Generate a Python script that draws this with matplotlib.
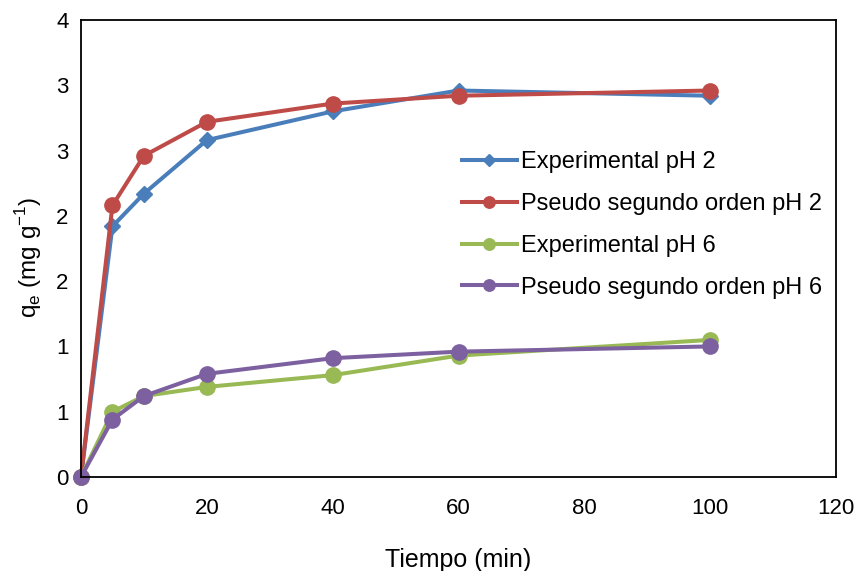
import matplotlib.pyplot as plt
import numpy as np
from matplotlib.ticker import FixedLocator, FixedFormatter

plt.rcParams['font.family'] = ['Liberation Sans', 'DejaVu Sans']

tiempo = [0, 5, 10, 20, 40, 60, 100]
exp_ph2 = [0, 1.92, 2.17, 2.58, 2.80, 2.96, 2.92]
pso_ph2 = [0, 2.08, 2.46, 2.72, 2.86, 2.92, 2.96]
exp_ph6 = [0, 0.50, 0.62, 0.69, 0.78, 0.93, 1.05]
pso_ph6 = [0, 0.44, 0.62, 0.79, 0.91, 0.96, 1.00]

y_ticks = [0, 0.5, 1, 1.5, 2, 2.5, 3, 3.5]
y_labels = ['0', '1', '1', '2', '2', '3', '3', '4']
x_ticks = [0, 20, 40, 60, 80, 100, 120]


def render():
    fig = plt.figure(figsize=(8.56, 5.71), dpi=100)
    fig.patch.set_facecolor('#ffffff')
    ax = fig.add_axes([81/856, 1 - 477/571, (836-81)/856, (477-20)/571])

    ax.plot(tiempo, exp_ph2, color='#4a7ebb', marker='D', markersize=8,
            linewidth=2.9, label='Experimental pH 2')
    ax.plot(tiempo, pso_ph2, color='#be4b48', marker='o', markersize=11,
            linewidth=2.9, label='Pseudo segundo orden pH 2')
    ax.plot(tiempo, exp_ph6, color='#98b954', marker='o', markersize=11,
            linewidth=2.9, label='Experimental pH 6')
    ax.plot(tiempo, pso_ph6, color='#7d60a0', marker='o', markersize=11,
            linewidth=2.9, label='Pseudo segundo orden pH 6')

    ax.set_xlim(0, 120)
    ax.set_ylim(0, 3.5)
    ax.set_xticks(x_ticks)
    ax.yaxis.set_major_locator(FixedLocator(y_ticks))
    ax.yaxis.set_major_formatter(FixedFormatter(y_labels))
    ax.tick_params(labelsize=16, length=0)
    ax.tick_params(axis='x', pad=15)
    ax.tick_params(axis='y', pad=9)
    for s in ax.spines.values():
        s.set_linewidth(1.3)
        s.set_color('black')
    for line in ax.lines:
        line.set_clip_on(False)

    ax.set_xlabel('Tiempo (min)', fontsize=18, labelpad=21)
    ax.set_ylabel(r'q$_\mathregular{e}$ (mg g$^\mathregular{-1}$)', fontsize=17.5)
    ax.yaxis.set_label_coords(-0.049, 0.48)

    ax.legend(loc='upper left', bbox_to_anchor=(0.505, 0.713), frameon=False,
              fontsize=17, handlelength=2.3, handletextpad=0.17,
              labelspacing=0.84, borderaxespad=0, borderpad=0, markerscale=0.75)

    fig.savefig('out.png', dpi=100)


render()
